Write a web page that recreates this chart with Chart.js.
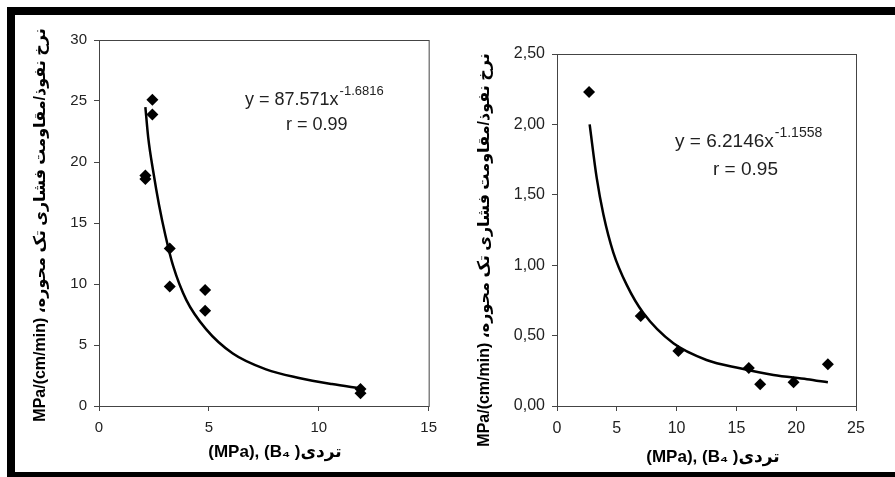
<!DOCTYPE html>
<html>
<head>
<meta charset="utf-8">
<script src="https://cdn.jsdelivr.net/npm/chart.js@4"></script>
<style>
  body { margin: 0; width: 895px; height: 477px; overflow: hidden; background: #fff; position: relative; }
  .bar { position: absolute; background: #000; }
  .box { position: absolute; top: 0; height: 477px; }
</style>
</head>
<body>
<div class="box" style="left:0;width:445px"><canvas id="left"></canvas></div>
<div class="box" style="left:445px;width:450px"><canvas id="right"></canvas></div>
<div class="bar" style="left:7px;top:7px;width:888px;height:8px"></div>
<div class="bar" style="left:7px;top:7px;width:8px;height:470px"></div>
<div class="bar" style="left:7px;top:472px;width:888px;height:5px"></div>
<script>
// left panel
const leftX = [2.43, 2.43, 2.11, 2.11, 3.22, 3.22, 4.83, 4.83, 11.9, 11.9];
const leftY = [25.1, 23.9, 18.9, 18.6, 12.9, 9.8, 9.5, 7.8, 1.4, 1.05];
const leftFitX = [2.11, 2.24, 2.47, 2.73, 3.02, 3.37, 3.97, 4.87, 6.09, 7.6, 9.1, 10.6, 11.9];
const leftFitY = [24.5, 22.0, 19.2, 16.5, 14.0, 11.5, 8.7, 6.3, 4.3, 3.0, 2.3, 1.8, 1.45];

// right panel
const rightX = [2.68, 7.0, 10.15, 16.04, 16.99, 19.78, 22.65];
const rightY = [2.23, 0.64, 0.39, 0.27, 0.155, 0.168, 0.296];
const rightFitX = [2.73, 3.32, 3.88, 4.71, 5.83, 7.22, 9.73, 12.5, 15.3, 18.1, 20.9, 22.65];
const rightFitY = [2.0, 1.62, 1.36, 1.09, 0.86, 0.66, 0.445, 0.327, 0.268, 0.22, 0.19, 0.168];

const xTitle = '(MPa), (B\u2084 )تردی';
const yTitle = 'MPa/(cm/min) ،نرخ نفوذ/مقاومت فشاری تک محوره';

const FONT = '"Liberation Sans", Arial, "DejaVu Sans", sans-serif';
const AXIS = '#444';

function pairs( xs, ys ) {
	return xs.map( ( x, i ) => ( { x, y: ys[ i ] } ) );
}

// frame around the plot area, titles and the fit equation
const decor = {
	id: 'decor',
	afterDraw( chart, args, opts ) {
		const { ctx, chartArea: a } = chart;
		ctx.save();
		ctx.strokeStyle = AXIS;
		ctx.lineWidth = 1;
		ctx.strokeRect( a.left + 0.5, a.top + 0.5, a.right - a.left, a.bottom - a.top );

		ctx.fillStyle = '#000';
		ctx.font = 'bold 17px ' + FONT;
		ctx.textAlign = 'center';
		ctx.textBaseline = 'middle';
		ctx.fillText( xTitle, opts.xt[ 0 ], opts.xt[ 1 ] );

		ctx.save();
		ctx.translate( opts.yt[ 0 ], opts.yt[ 1 ] );
		ctx.rotate( -Math.PI / 2 );
		ctx.font = 'bold 16px ' + FONT;
		ctx.fillText( yTitle, 0, 0 );
		ctx.restore();

		ctx.fillStyle = '#222';
		ctx.textAlign = 'left';
		ctx.font = opts.eqSize + 'px ' + FONT;
		ctx.fillText( opts.eq, opts.eqPos[ 0 ], opts.eqPos[ 1 ] );
		const w = ctx.measureText( opts.eq ).width;
		ctx.font = opts.supSize + 'px ' + FONT;
		ctx.fillText( opts.sup, opts.eqPos[ 0 ] + w + 1, opts.eqPos[ 1 ] - 9 );
		ctx.font = opts.eqSize + 'px ' + FONT;
		ctx.fillText( opts.r, opts.rPos[ 0 ], opts.rPos[ 1 ] );
		ctx.restore();
	},
};

function makeChart( id, cfg ) {
	new Chart( document.getElementById( id ), {
		type: 'scatter',
		data: {
			datasets: [
				{
					data: pairs( cfg.px, cfg.py ),
					pointStyle: 'rectRot',
					pointRadius: 6,
					backgroundColor: '#000',
					borderColor: '#000',
					borderWidth: 0,
				},
				{
					data: pairs( cfg.fx, cfg.fy ),
					showLine: true,
					pointRadius: 0,
					borderColor: '#000',
					borderWidth: 2.5,
					cubicInterpolationMode: 'monotone',
				},
			],
		},
		options: {
			responsive: true,
			maintainAspectRatio: false,
			animation: false,
			events: [],
			layout: { padding: cfg.padding },
			plugins: {
				legend: { display: false },
				tooltip: { enabled: false },
				decor: cfg.decor,
			},
			scales: {
				x: {
					min: 0,
					max: cfg.xMax,
					afterFit( scale ) {
						scale.height = 30;
					},
					ticks: {
						stepSize: 5,
						padding: 8,
						color: '#222',
						font: { family: FONT, size: cfg.tickSize },
					},
					grid: { drawOnChartArea: false, tickLength: 5, color: AXIS },
					border: { color: AXIS },
				},
				y: {
					min: 0,
					max: cfg.yMax,
					afterFit( scale ) {
						scale.width = 45;
					},
					ticks: {
						stepSize: cfg.yStep,
						padding: 7,
						color: '#222',
						font: { family: FONT, size: cfg.tickSize },
						callback: cfg.yFmt,
					},
					grid: { drawOnChartArea: false, tickLength: 5, color: AXIS },
					border: { color: AXIS },
				},
			},
		},
		plugins: [ decor ],
	} );
}

makeChart( 'left', {
	px: leftX, py: leftY, fx: leftFitX, fy: leftFitY,
	xMax: 15, yMax: 30, yStep: 5, tickSize: 15,
	yFmt: ( v ) => v,
	padding: { left: 54, right: 15, top: 40, bottom: 41 },
	decor: {
		xt: [ 275, 452 ], yt: [ 41, 225 ],
		eq: 'y = 87.571x', sup: '-1.6816', eqSize: 18, supSize: 13,
		eqPos: [ 245, 100 ], r: 'r = 0.99', rPos: [ 286, 125 ],
	},
} );

makeChart( 'right', {
	px: rightX, py: rightY, fx: rightFitX, fy: rightFitY,
	xMax: 25, yMax: 2.5, yStep: 0.5, tickSize: 16,
	yFmt: ( v ) => v.toFixed( 2 ).replace( '.', ',' ),
	padding: { left: 67, right: 39, top: 54, bottom: 41 },
	decor: {
		xt: [ 268, 457 ], yt: [ 40, 250 ],
		eq: 'y = 6.2146x', sup: '-1.1558', eqSize: 19, supSize: 14,
		eqPos: [ 230, 142 ], r: 'r = 0.95', rPos: [ 268, 170 ],
	},
} );
</script>
</body>
</html>
